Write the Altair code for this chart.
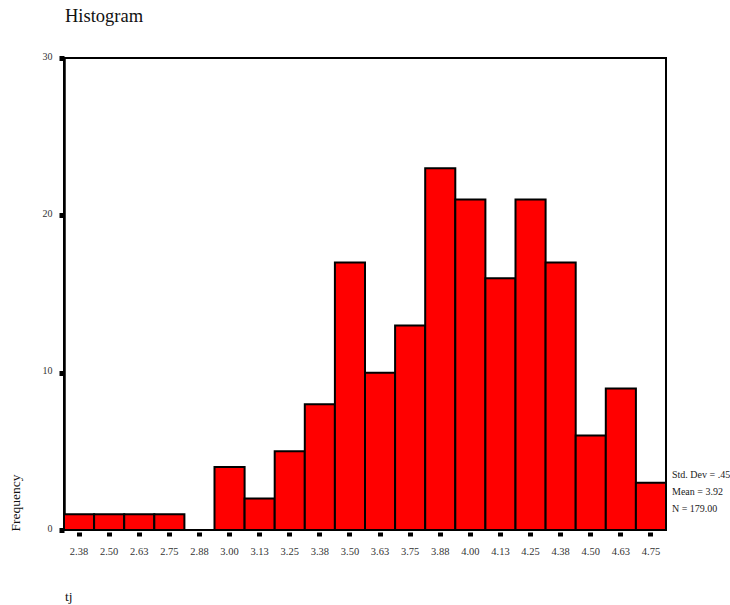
import altair as alt
import pandas as pd

# Bin midpoints (width 0.125) and their counts
bin_labels = ["2.38", "2.50", "2.63", "2.75", "2.88", "3.00", "3.13", "3.25", "3.38", "3.50",
              "3.63", "3.75", "3.88", "4.00", "4.13", "4.25", "4.38", "4.50", "4.63", "4.75"]
frequencies = [1, 1, 1, 1, 0, 4, 2, 5, 8, 17, 10, 13, 23, 21, 16, 21, 17, 6, 9, 3]

stat_lines = ["Std. Dev = .45", "Mean = 3.92", "N = 179.00"]
y_ticks = [0, 10, 20, 30]

SERIF = "Liberation Serif"
W, H = 602, 472

df = pd.DataFrame({"bin": bin_labels, "count": frequencies})

bars = alt.Chart(df).mark_bar(
    color="#ff0000", stroke="black", strokeWidth=2, strokeJoin="miter"
).encode(
    x=alt.X("bin:O", sort=bin_labels, title=None,
            scale=alt.Scale(paddingInner=0, paddingOuter=0),
            axis=alt.Axis(labelAngle=0, domain=False, offset=2, tickSize=4, tickWidth=5,
                          tickColor="black", labelPadding=10, labelFont=SERIF,
                          labelFontSize=10.5, labelColor="#333")),
    y=alt.Y("count:Q", title=None,
            scale=alt.Scale(domain=[0, 30], nice=False),
            axis=alt.Axis(values=y_ticks, grid=False, domainColor="black", domainWidth=2.5,
                          tickSize=5, tickWidth=5, tickColor="black", labelPadding=7,
                          labelFont=SERIF, labelFontSize=10, labelColor="#333",
                          labelBaseline="middle", labelOffset=-2)),
)

stats = alt.Chart(pd.DataFrame({"t": stat_lines, "i": [0, 1, 2]})).mark_text(
    align="left", baseline="middle", font=SERIF, fontSize=10, color="#222"
).encode(
    text="t:N",
    x=alt.value(W + 6),
    y=alt.Y("i:O", scale=alt.Scale(range=[409, 459]), axis=None),
)

title = alt.Chart(pd.DataFrame({"t": ["Histogram"]})).mark_text(
    align="left", baseline="alphabetic", font=SERIF, fontSize=18.5, color="#111"
).encode(text="t:N", x=alt.value(1), y=alt.value(-36))

ylabel = alt.Chart(pd.DataFrame({"t": ["Frequency"]})).mark_text(
    align="center", baseline="middle", font=SERIF, fontSize=13.5, color="#111", angle=270
).encode(text="t:N", x=alt.value(-48), y=alt.value(445))

xlabel = alt.Chart(pd.DataFrame({"t": ["tj"]})).mark_text(
    align="left", baseline="alphabetic", font=SERIF, fontSize=13.5, color="#111"
).encode(text="t:N", x=alt.value(1), y=alt.value(543))

chart = alt.layer(bars, stats, title, ylabel, xlabel).resolve_scale(y="independent").properties(
    width=W, height=H,
    autosize=alt.AutoSizeParams(type="none"),
    padding={"left": 64, "top": 58, "right": 64, "bottom": 75},
    background="white",
).configure_view(stroke="black", strokeWidth=2)

chart.save("out.html", embed_options={"renderer": "svg", "actions": False})
